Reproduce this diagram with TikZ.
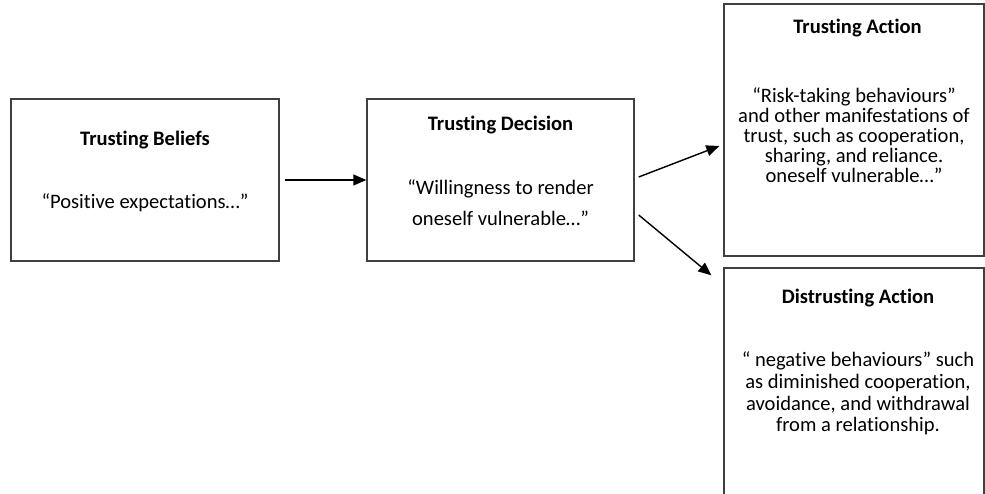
\documentclass[tikz,border=0pt]{standalone}
\usepackage{fontspec}
\setmainfont{Carlito}[Ligatures={TeX,NoCommon}]
\usetikzlibrary{arrows.meta,positioning,calc}

\begin{document}
\begin{tikzpicture}[
  box/.style={draw=black!75, line width=0.8pt, inner sep=0pt},
  title/.style={font=\fontsize{11.7}{13}\selectfont\bfseries, align=center},
  body/.style={font=\fontsize{11.7}{#1}\selectfont, align=center},
  body/.default=12,
  arr/.style={-{Triangle[length=2.6mm,width=2.2mm]}, line width=0.8pt}
]
  \useasboundingbox (0,0) rectangle (19.7,9.88);

  % Trusting Beliefs box
  \node[box, minimum width=5.36cm, minimum height=3.24cm] (beliefs) at (2.9,6.28) {};
  \node[title] (beliefsT) at (2.9,7.08) {Trusting Beliefs};
  \node[body] (beliefsB) at (2.9,5.82) {“Positive expectations…”};

  % Trusting Decision box
  \node[box, minimum width=5.34cm, minimum height=3.24cm] (decision) at (10.01,6.28) {};
  \node[title] (decisionT) at (10.01,7.38) {Trusting Decision};
  \node[body=17.6pt] (decisionB) at (10.01,5.83) {“Willingness to render\\oneself vulnerable…”};

  % Trusting Action box
  \node[box, minimum width=5.2cm, minimum height=5.04cm] (action) at (17.08,7.28) {};
  \node[title] (actionT) at (17.15,9.32) {Trusting Action};
  \node[body=11.4pt] (actionB) at (17.08,7.18) {“Risk-taking behaviours”\\and other manifestations of\\trust, such as cooperation,\\sharing, and reliance.\\oneself vulnerable…”};

  % Distrusting Action box (runs off the bottom)
  \node[box, minimum width=5.2cm, minimum height=5cm] (distrust) at (17.08,2.02) {};
  \node[title] (distrustT) at (17.16,3.92) {Distrusting Action};
  \node[body=12.4pt] (distrustB) at (17.16,2.01) {“ negative behaviours” such\\as diminished cooperation,\\avoidance, and withdrawal\\from a relationship.};

  % Arrows
  \draw[arr] ([xshift=1mm]beliefs.east) -- (decision.west);
  \draw[arr] ([xshift=0.8mm,yshift=0.6mm]decision.east) -- ([xshift=-0.8mm,yshift=-3.2mm]action.west);
  \draw[arr] ([xshift=0.8mm,yshift=-7mm]decision.east) -- ([xshift=-2.4mm,yshift=-1.6mm]distrust.north west);
\end{tikzpicture}
\end{document}
